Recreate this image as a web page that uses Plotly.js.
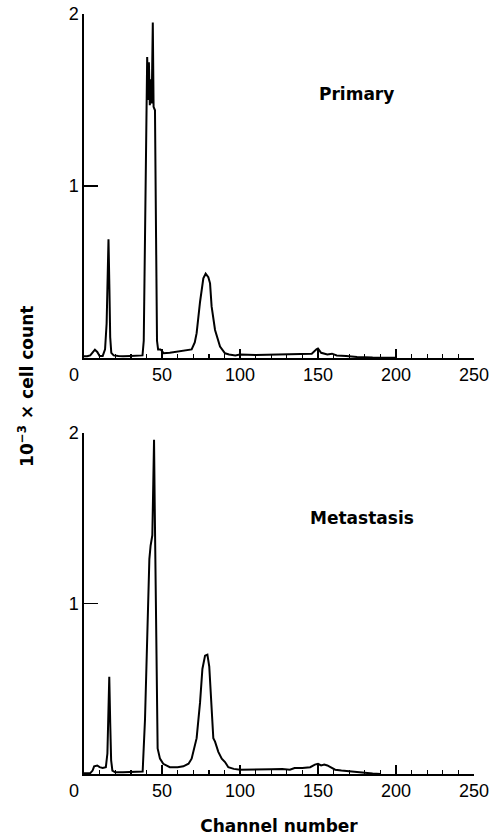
<!DOCTYPE html>
<html>
<head>
<meta charset="utf-8">
<script src="https://cdn.plot.ly/plotly-3.0.1.min.js"></script>
<style>html,body{margin:0;padding:0;background:#fff;}#chart{width:499px;height:837px;}</style>
</head>
<body>
<div id="chart"></div>
<script>
// Primary tumour histogram (channel number, 10^-3 x cell count)
const primaryChannel = [0,2,4,5.5,7,8.5,10,12,13.5,14.5,15.2,15.7,16.3,16.8,17.5,19,22,25,30,35,37.5,38.3,39,39.8,40.5,41.1,41.6,42.2,42.8,43.4,44.1,44.6,45.5,46.2,46.8,47.5,49,50,51,55,60,65,69,71,72.2,74.4,76.5,78,79.7,80.8,81.8,84,87.2,90.4,93,97,100,110,120,130,140,146,149,150,152,156,159,162,168,175,185,200];
const primaryCount   = [0.01,0.01,0.015,0.035,0.048,0.035,0.012,0.012,0.05,0.2,0.5,0.69,0.4,0.12,0.03,0.015,0.012,0.01,0.012,0.012,0.015,0.1,0.6,1.35,1.75,1.5,1.72,1.47,1.62,1.48,1.95,1.46,1.44,0.7,0.1,0.05,0.05,0.04,0.028,0.03,0.036,0.042,0.05,0.09,0.144,0.327,0.463,0.49,0.47,0.434,0.3,0.163,0.066,0.027,0.02,0.015,0.02,0.018,0.02,0.022,0.02,0.025,0.05,0.055,0.03,0.02,0.025,0.015,0.012,0.006,0.003,0.002];

// Metastasis histogram
const metaChannel = [0,4,5.5,6.5,8.5,10,12,14,15,15.6,16.2,16.8,17.4,18.2,20,25,30,35,37.6,39.1,40.6,41.9,42.7,43.3,43.8,44.4,44.9,45.3,45.7,46.6,47.2,48.7,50.8,55,60,63.7,67,69,72.2,74.4,75.9,77.6,79.1,80.3,81.3,81.8,82.9,84,86.1,88.3,90.4,92.5,96,100,110,120,127,132,135,140,145,148,150,152,154,156,158,161,165,170,175,180,185,190];
const metaCount   = [0.005,0.005,0.02,0.045,0.05,0.04,0.035,0.04,0.12,0.35,0.57,0.3,0.08,0.02,0.01,0.01,0.012,0.01,0.015,0.32,0.91,1.26,1.34,1.38,1.4,1.7,1.96,1.6,1.3,0.52,0.15,0.09,0.06,0.04,0.04,0.045,0.06,0.09,0.21,0.42,0.616,0.694,0.7,0.63,0.48,0.36,0.21,0.19,0.13,0.09,0.07,0.04,0.03,0.025,0.025,0.028,0.03,0.025,0.035,0.035,0.04,0.055,0.06,0.05,0.055,0.05,0.04,0.025,0.02,0.015,0.012,0.008,0.003,0];

const xTickVals = [0,50,100,150,200,250];
const xTickText = ['0\u2007\u2007','50','100','150','200','250'];
const yTickVals = [1,2];
const yTickText = ['1','2'];
const panelLabels = ['Primary','Metastasis'];

const tickFont = {family:'Liberation Sans, Arial, sans-serif', size:18, color:'#000'};
const titleFont = {family:'DejaVu Sans, sans-serif', size:17, color:'#000', weight:'bold'};

function xAxis(domainAnchor){
  return {
    anchor: domainAnchor, range:[0,250], domain:[0,1],
    showline:true, linecolor:'#000', linewidth:1.6,
    showgrid:false, zeroline:false,
    ticks:'inside', ticklen:9, tickwidth:1.4, tickcolor:'#000',
    tickvals:xTickVals, ticktext:xTickText, tickfont:tickFont,
    minor:{ticks:'inside', dtick:10, tick0:0, ticklen:4, tickwidth:1.4, tickcolor:'#000', showgrid:false},
    fixedrange:true
  };
}
function yAxis(domainAnchor, dom){
  return {
    anchor: domainAnchor, range:[0,2], domain:dom,
    showline:true, linecolor:'#000', linewidth:1.6,
    showgrid:false, zeroline:false,
    ticks:'inside', ticklen:14, tickwidth:1.4, tickcolor:'#000',
    tickvals:yTickVals, ticktext:yTickText, tickfont:tickFont,
    fixedrange:true
  };
}

const traces = [
  {x:primaryChannel, y:primaryCount, xaxis:'x', yaxis:'y', mode:'lines', line:{color:'#000', width:2}, hoverinfo:'skip'},
  {x:metaChannel, y:metaCount, xaxis:'x2', yaxis:'y2', mode:'lines', line:{color:'#000', width:2}, hoverinfo:'skip'}
];

const layout = {
  width:499, height:837,
  margin:{l:84, r:25, t:14, b:63},
  paper_bgcolor:'#fff', plot_bgcolor:'#fff',
  showlegend:false,
  xaxis: xAxis('y'),
  yaxis: yAxis('x', [0.5474,1]),
  xaxis2: Object.assign(xAxis('y2'), {title:{text:'Channel number', font:titleFont, standoff:20}}),
  yaxis2: yAxis('x2', [0,0.4487]),
  annotations:[
    {text:panelLabels[0], xref:'x', yref:'y', x:174.7, y:1.535, showarrow:false, font:titleFont, xanchor:'center', yanchor:'middle'},
    {text:panelLabels[1], xref:'x2', yref:'y2', x:178, y:1.50, showarrow:false, font:titleFont, xanchor:'center', yanchor:'middle'},
    {text:'10<sup>\u22123</sup> \u00d7 cell count', xref:'paper', yref:'paper', x:-0.149, y:0.5105, textangle:-90, showarrow:false, font:titleFont, xanchor:'center', yanchor:'middle'}
  ]
};

Plotly.newPlot('chart', traces, layout, {staticPlot:true, displayModeBar:false});
</script>
</body>
</html>
